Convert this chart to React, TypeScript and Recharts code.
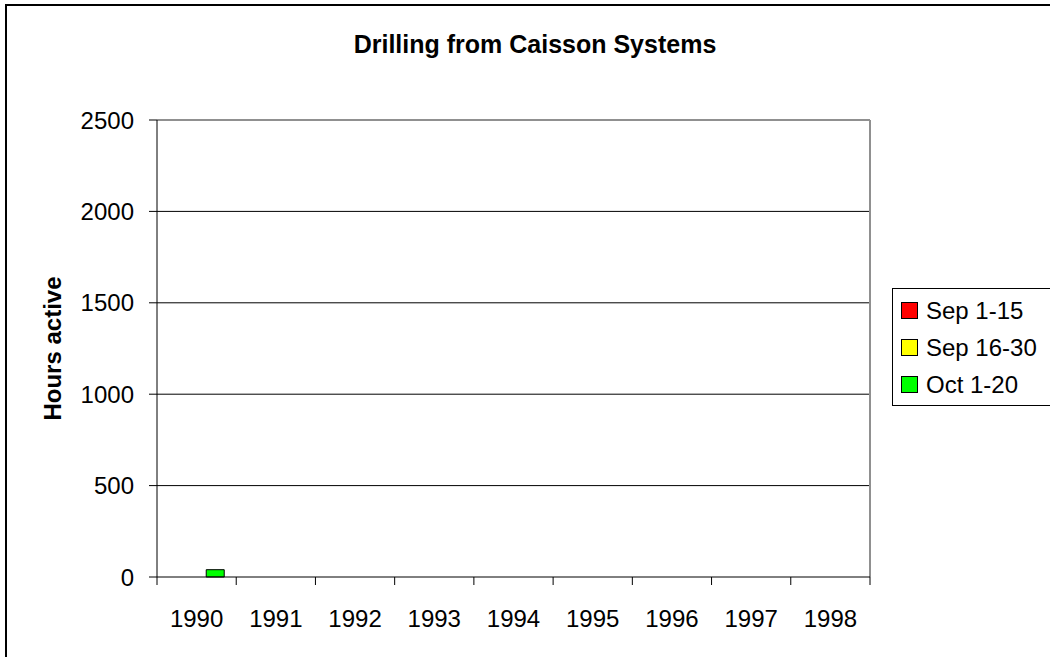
import React from 'react';
import { BarChart, Bar, XAxis, YAxis, CartesianGrid, Legend, ReferenceLine } from 'recharts';

const years = ['1990', '1991', '1992', '1993', '1994', '1995', '1996', '1997', '1998'];
const sep1to15 = [0, 0, 0, 0, 0, 0, 0, 0, 0];
const sep16to30 = [0, 0, 0, 0, 0, 0, 0, 0, 0];
const oct1to20 = [40, 0, 0, 0, 0, 0, 0, 0, 0];
const yTicks = [0, 500, 1000, 1500, 2000, 2500];
const gridValues = [500, 1000, 1500, 2000];
const seriesNames = ['Sep 1-15', 'Sep 16-30', 'Oct 1-20'];
const seriesColors = ['#FF0000', '#FFFF00', '#00FF00'];
const title = 'Drilling from Caisson Systems';
const yLabel = 'Hours active';

const data = years.map((y, i) => ({ year: y, s1: sep1to15[i], s2: sep16to30[i], s3: oct1to20[i] }));

const FONT = '"Liberation Sans", Arial, sans-serif';
const PLOT_LEFT = 157;
const PLOT_RIGHT = 870;

const CategoryTick = (props: any) => {
  const { x, y, payload, index } = props;
  const half =
    payload && typeof payload.offset === 'number' && payload.offset > 0
      ? payload.offset
      : (PLOT_RIGHT - PLOT_LEFT) / years.length / 2;
  const isLast = index === years.length - 1;
  return (
    <g>
      <line x1={x - half} y1={y} x2={x - half} y2={y + 8} stroke="#000" strokeWidth={1} />
      {isLast && <line x1={x + half} y1={y} x2={x + half} y2={y + 8} stroke="#000" strokeWidth={1} />}
      <text
        x={x}
        y={y + 33}
        dy="0.71em"
        textAnchor="middle"
        fontFamily={FONT}
        fontSize={24}
        fill="#000"
      >
        {payload.value}
      </text>
    </g>
  );
};

const LegendBox = (props: any) => {
  const payload = [...(props.payload || [])].sort(
    (a: any, b: any) => seriesNames.indexOf(a.value) - seriesNames.indexOf(b.value)
  );
  return (
    <div
      style={{
        border: '1px solid #000',
        background: '#fff',
        width: 180,
        boxSizing: 'border-box',
        paddingTop: 3,
        paddingBottom: 2,
        fontFamily: FONT,
        fontSize: 24,
        color: '#000',
      }}
    >
      {payload.map((p: any, i: number) => (
        <div key={i} style={{ display: 'flex', alignItems: 'center', height: 37, paddingLeft: 8 }}>
          <div
            style={{
              width: 15,
              height: 15,
              background: p.color,
              border: '1px solid #000',
              marginRight: 8,
              flex: 'none',
            }}
          />
          <span style={{ whiteSpace: 'nowrap' }}>{p.value}</span>
        </div>
      ))}
    </div>
  );
};

const YLabel = (props: any) => {
  const vb = props.viewBox || {};
  const cy = (vb.y || 0) + (vb.height || 0) / 2;
  const x = 52;
  return (
    <text
      x={x}
      y={cy}
      transform={`rotate(-90, ${x}, ${cy})`}
      textAnchor="middle"
      dominantBaseline="central"
      fontFamily={FONT}
      fontWeight="bold"
      fontSize={24}
      fill="#000"
    >
      {yLabel}
    </text>
  );
};

export default function App() {
  return (
    <div
      style={{
        position: 'absolute',
        left: 0,
        top: 0,
        width: 1050,
        height: 657,
        overflow: 'hidden',
        background: '#fff',
      }}
    >
      <div
        style={{
          position: 'absolute',
          left: 5,
          top: 4,
          width: 1200,
          height: 800,
          border: '2px solid #000',
        }}
      />
      <div
        style={{
          position: 'absolute',
          left: 0,
          top: 32,
          width: 1070,
          textAlign: 'center',
          fontFamily: FONT,
          fontWeight: 'bold',
          fontSize: 25,
          lineHeight: '25px',
          color: '#000',
        }}
      >
        {title}
      </div>
      <div style={{ position: 'absolute', left: 0, top: 0 }}>
        <BarChart
          width={1050}
          height={657}
          data={data}
          margin={{ top: 120, right: 1050 - PLOT_RIGHT, bottom: 20, left: 0 }}
          barCategoryGap="16.7%"
          barGap={0}
        >
          <CartesianGrid vertical={false} horizontalValues={gridValues} stroke="#000" strokeWidth={1} />
          <XAxis
            dataKey="year"
            height={60}
            axisLine={{ stroke: '#000', strokeWidth: 1 }}
            tickLine={false}
            tickSize={0}
            tickMargin={0}
            interval={0}
            tick={<CategoryTick />}
          />
          <YAxis
            width={PLOT_LEFT}
            domain={[0, 2500]}
            ticks={yTicks}
            interval={0}
            tickSize={8}
            tickMargin={15}
            axisLine={{ stroke: '#000', strokeWidth: 1 }}
            tickLine={{ stroke: '#000', strokeWidth: 1 }}
            tick={{ fontFamily: FONT, fontSize: 24, fill: '#000' }}
            label={<YLabel />}
          />
          <ReferenceLine y={2500} stroke="#909090" strokeWidth={2} />
          <ReferenceLine x="1998" position="end" stroke="#909090" strokeWidth={2} />
          <Legend
            layout="vertical"
            align="center"
            verticalAlign="middle"
            content={<LegendBox />}
            wrapperStyle={{ position: 'absolute', left: 892, top: 288, right: 'auto', bottom: 'auto', width: 'auto', height: 'auto' }}
          />
          <Bar dataKey="s1" name={seriesNames[0]} fill={seriesColors[0]} stroke="#000" strokeWidth={1} isAnimationActive={false} />
          <Bar dataKey="s2" name={seriesNames[1]} fill={seriesColors[1]} stroke="#000" strokeWidth={1} isAnimationActive={false} />
          <Bar dataKey="s3" name={seriesNames[2]} fill={seriesColors[2]} stroke="#000" strokeWidth={1} isAnimationActive={false} />
        </BarChart>
      </div>
    </div>
  );
}
